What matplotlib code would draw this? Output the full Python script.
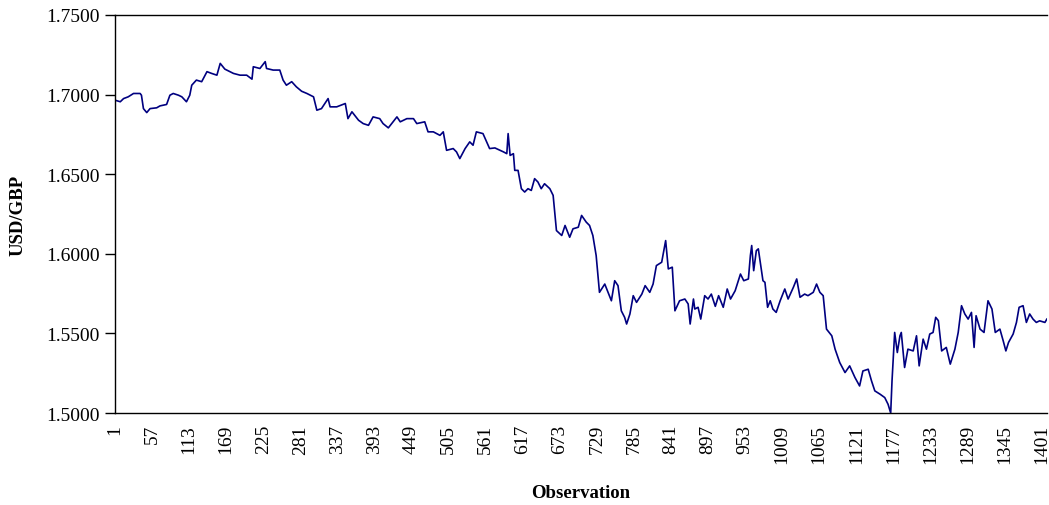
import matplotlib
matplotlib.use("Agg")
import matplotlib.pyplot as plt
from matplotlib.ticker import FixedLocator, FormatStrFormatter

# observation number / USD per GBP
obs = [1, 9, 14, 21, 29, 39, 41, 44, 49, 54, 64, 69, 79, 84, 89, 97, 102, 109,
       114, 117, 124, 132, 140, 147, 155, 160, 167, 180, 190, 200, 208, 210,
       220, 228, 230, 240, 250, 255, 260, 268, 275, 283, 291, 301, 306, 313,
       323, 326, 336, 349, 353, 359, 369, 376, 384, 391, 401, 406, 414, 427,
       432, 442, 452, 457, 469, 474, 482, 492, 497, 502, 512, 517, 522, 530,
       537, 542, 547, 557, 567, 575, 588, 593, 595, 598, 603, 605, 610, 615,
       620, 625, 630, 635, 640, 645, 650, 658, 663, 668, 676, 681, 688, 693,
       701, 706, 713, 718, 723, 728, 733, 741, 746, 751, 756, 761, 766, 771,
       774, 779, 784, 789, 797, 802, 809, 814, 819, 827, 833, 837, 843, 847,
       854, 862, 867, 870, 875, 877, 882, 886, 892, 897, 902, 908, 913, 920,
       926, 931, 938, 946, 951, 958, 961, 963, 966, 970, 973, 976, 980, 983,
       987, 991, 995, 1000, 1006, 1013, 1018, 1026, 1031, 1036, 1043, 1048,
       1056, 1061, 1066, 1071, 1076, 1084, 1089, 1096, 1104, 1111, 1119, 1126,
       1131, 1139, 1144, 1149, 1157, 1164, 1169, 1173, 1175, 1179, 1183, 1187,
       1189, 1194, 1199, 1207, 1212, 1216, 1222, 1227, 1232, 1237, 1241, 1245,
       1250, 1257, 1263, 1270, 1275, 1280, 1285, 1290, 1295, 1299, 1302, 1308,
       1314, 1320, 1326, 1331, 1338, 1343, 1347, 1351, 1358, 1363, 1367, 1373,
       1378, 1383, 1388, 1393, 1398, 1406, 1409]

rate = [1.6965, 1.6955, 1.6975, 1.6986, 1.7007, 1.7007, 1.6996, 1.6912, 1.6887,
        1.6912, 1.6917, 1.6929, 1.6938, 1.6996, 1.7007, 1.6996, 1.6986, 1.6955,
        1.6996, 1.7059, 1.7091, 1.7081, 1.7144, 1.7133, 1.7122, 1.7196, 1.7160,
        1.7133, 1.7122, 1.7122, 1.7097, 1.7175, 1.7164, 1.7207, 1.7164, 1.7154,
        1.7154, 1.7091, 1.7059, 1.7081, 1.7049, 1.7021, 1.7007, 1.6986, 1.6902,
        1.6912, 1.6975, 1.6923, 1.6923, 1.6944, 1.6849, 1.6892, 1.6839, 1.6818,
        1.6807, 1.6860, 1.6849, 1.6818, 1.6791, 1.6860, 1.6829, 1.6849, 1.6849,
        1.6818, 1.6829, 1.6766, 1.6766, 1.6744, 1.6766, 1.6650, 1.6661, 1.6640,
        1.6598, 1.6661, 1.6703, 1.6682, 1.6766, 1.6755, 1.6661, 1.6665, 1.6640,
        1.6629, 1.6755, 1.6618, 1.6629, 1.6524, 1.6524, 1.6409, 1.6388, 1.6409,
        1.6398, 1.6472, 1.6451, 1.6409, 1.6440, 1.6409, 1.6367, 1.6146, 1.6115,
        1.6178, 1.6104, 1.6157, 1.6167, 1.6241, 1.6199, 1.6178, 1.6115, 1.5989,
        1.5758, 1.5810, 1.5758, 1.5705, 1.5831, 1.5800, 1.5642, 1.5601, 1.5559,
        1.5622, 1.5737, 1.5695, 1.5747, 1.5800, 1.5758, 1.5810, 1.5926, 1.5947,
        1.6083, 1.5905, 1.5916, 1.5642, 1.5705, 1.5716, 1.5685, 1.5559, 1.5716,
        1.5653, 1.5664, 1.5590, 1.5737, 1.5716, 1.5747, 1.5670, 1.5737, 1.5664,
        1.5779, 1.5716, 1.5768, 1.5873, 1.5831, 1.5842, 1.5989, 1.6052, 1.5894,
        1.6020, 1.6031, 1.5947, 1.5831, 1.5821, 1.5664, 1.5705, 1.5653, 1.5632,
        1.5705, 1.5779, 1.5716, 1.5790, 1.5842, 1.5727, 1.5747, 1.5737, 1.5758,
        1.5810, 1.5758, 1.5737, 1.5527, 1.5485, 1.5401, 1.5317, 1.5254, 1.5296,
        1.5223, 1.5170, 1.5264, 1.5275, 1.5202, 1.5139, 1.5118, 1.5097, 1.5055,
        1.5000, 1.5202, 1.5506, 1.5380, 1.5485, 1.5506, 1.5286, 1.5401, 1.5390,
        1.5485, 1.5296, 1.5464, 1.5401, 1.5496, 1.5506, 1.5601, 1.5580, 1.5390,
        1.5412, 1.5307, 1.5401, 1.5506, 1.5674, 1.5622, 1.5590, 1.5632, 1.5412,
        1.5611, 1.5527, 1.5506, 1.5705, 1.5653, 1.5506, 1.5527, 1.5453, 1.5390,
        1.5443, 1.5496, 1.5569, 1.5664, 1.5674, 1.5569, 1.5622, 1.5590, 1.5569,
        1.5579, 1.5569, 1.5590]

xtick_labels = list(range(1, 1402, 56))
yticks = [1.50, 1.55, 1.60, 1.65, 1.70, 1.75]

plt.rcParams['font.family'] = ['Liberation Serif', 'DejaVu Serif']

fig = plt.figure(figsize=(10.49, 5.06), dpi=100)
ax = fig.add_axes([0.1096, 0.1818, 0.8884, 0.7866])

ax.plot(obs, rate, color='#000080', lw=1.2)

ax.set_xlim(1, 1409)
ax.set_ylim(1.5, 1.75)

ax.xaxis.set_major_locator(FixedLocator(xtick_labels))
ax.set_xticklabels([str(v) for v in xtick_labels], rotation=90, fontsize=14)
ax.tick_params(axis='x', length=0, pad=8)

ax.yaxis.set_major_locator(FixedLocator(yticks))
ax.yaxis.set_major_formatter(FormatStrFormatter('%.4f'))
ax.tick_params(axis='y', direction='out', length=7, width=1, labelsize=14, pad=4)

ax.spines['right'].set_visible(False)
for s in ['left', 'bottom', 'top']:
    ax.spines[s].set_linewidth(1.0)
    ax.spines[s].set_color('black')

ax.set_xlabel('Observation', fontsize=13.5, fontweight='bold', labelpad=15)
ax.set_ylabel('USD/GBP', fontsize=13.5, fontweight='bold', labelpad=14)

fig.savefig('out.png', dpi=100)
